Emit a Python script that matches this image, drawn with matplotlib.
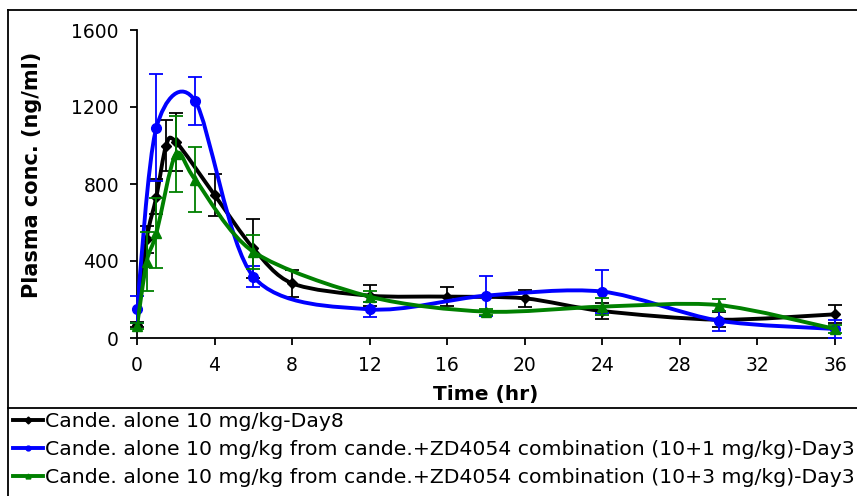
import matplotlib
matplotlib.use("Agg")
import matplotlib.pyplot as plt
from matplotlib.path import Path
from matplotlib.patches import PathPatch
from matplotlib.lines import Line2D
import numpy as np

# time (hr), mean and SD
t_day8 = [0, 0.5, 1, 1.5, 2, 4, 6, 8, 12, 16, 20, 24, 30, 36]
c_day8 = [70, 514, 734, 1000, 1020, 743, 466, 284, 220, 215, 206, 140, 95, 123]
sd_day8 = [15, 70, 90, 135, 150, 110, 152, 71, 55, 50, 43, 42, 40, 47]

t_comb1 = [0, 1, 3, 6, 12, 18, 24, 30, 36]
c_comb1 = [149, 1093, 1231, 319, 149, 220, 241, 90, 47]
sd_comb1 = [69, 280, 125, 55, 39, 104, 112, 52, 45]

t_comb3 = [0, 0.5, 1, 2, 3, 6, 12, 18, 24, 30, 36]
c_comb3 = [62, 397, 544, 954, 823, 448, 215, 137, 163, 171, 47]
sd_comb3 = [15, 154, 182, 197, 167, 88, 30, 15, 43, 33, 20]

labels = [
    "Cande. alone 10 mg/kg-Day8",
    "Cande. alone 10 mg/kg from cande.+ZD4054 combination (10+1 mg/kg)-Day3",
    "Cande. alone 10 mg/kg from cande.+ZD4054 combination (10+3 mg/kg)-Day3",
]
x_ticks = [0, 4, 8, 12, 16, 20, 24, 28, 32, 36]
y_ticks = [0, 400, 800, 1200, 1600]


def smooth_path(x, y, k=0.145):
    # Excel-like smoothed line as cubic bezier segments
    x = np.asarray(x, float)
    y = np.asarray(y, float)
    n = len(x)
    verts = [(x[0], y[0])]
    codes = [Path.MOVETO]
    for i in range(n - 1):
        i0 = max(i - 1, 0)
        i3 = min(i + 2, n - 1)
        c1 = (x[i] + (x[i + 1] - x[i0]) * k, y[i] + (y[i + 1] - y[i0]) * k)
        c2 = (x[i + 1] - (x[i3] - x[i]) * k, y[i + 1] - (y[i3] - y[i]) * k)
        verts += [c1, c2, (x[i + 1], y[i + 1])]
        codes += [Path.CURVE4] * 3
    return Path(verts, codes)


fig = plt.figure(figsize=(8.57, 4.96), dpi=100)
ax = fig.add_axes([137 / 857, 1 - 338 / 496, (835 - 137) / 857, (338 - 30) / 496])

series = [
    (t_day8, c_day8, sd_day8, "black", "D", 5),
    (t_comb1, c_comb1, sd_comb1, "#0000ff", "o", 7),
    (t_comb3, c_comb3, sd_comb3, "#008000", "^", 7.5),
]

handles = []
for k, (t, c, sd, col, mk, ms) in enumerate(series):
    z = 3 + k
    ax.errorbar(t, c, yerr=sd, fmt="none", ecolor=col, elinewidth=1.3,
                capsize=5, capthick=1.3, zorder=z, clip_on=False)
    ax.add_patch(PathPatch(smooth_path(t, c), fill=False, edgecolor=col,
                           lw=2.8, zorder=z, capstyle="round", joinstyle="round"))
    ax.plot(t, c, linestyle="none", marker=mk, ms=ms, color=col, zorder=z,
            clip_on=False)
    handles.append(Line2D([], [], color=col, lw=2.8, marker=mk, ms=3.5))

ax.set_xlim(0, 36)
ax.set_ylim(0, 1600)
ax.set_xticks(x_ticks)
ax.set_yticks(y_ticks)
ax.tick_params(direction="out", length=5, width=1.3, labelsize=13.5)
ax.tick_params(axis="x", pad=8)
ax.tick_params(axis="y", pad=8)
for side in ["top", "right"]:
    ax.spines[side].set_visible(False)
for side in ["left", "bottom"]:
    ax.spines[side].set_linewidth(1.3)

ax.set_xlabel("Time (hr)", fontsize=14.5, fontweight="bold")
ax.set_ylabel("Plasma conc. (ng/ml)", fontsize=15, fontweight="bold")
ax.xaxis.set_label_coords(0.5, -0.153)
ax.yaxis.set_label_coords(-0.136, 0.53)

# outer frames of chart and legend areas
frame = dict(color="black", lw=1.3, transform=fig.transFigure)
fig.add_artist(Line2D([8 / 857, 8 / 857], [0, 1 - 10 / 496], **frame))
fig.add_artist(Line2D([8 / 857, 1], [1 - 10 / 496, 1 - 10 / 496], **frame))
fig.add_artist(Line2D([8 / 857, 1], [1 - 408 / 496, 1 - 408 / 496], **frame))

fig.legend(handles, labels, loc="upper left",
           bbox_to_anchor=(12 / 857, 1 - 411 / 496), frameon=False,
           fontsize=14.7, handlelength=1.45, handletextpad=0.1,
           labelspacing=0.45, borderaxespad=0, borderpad=0.05)

fig.savefig("out.png", dpi=100)
